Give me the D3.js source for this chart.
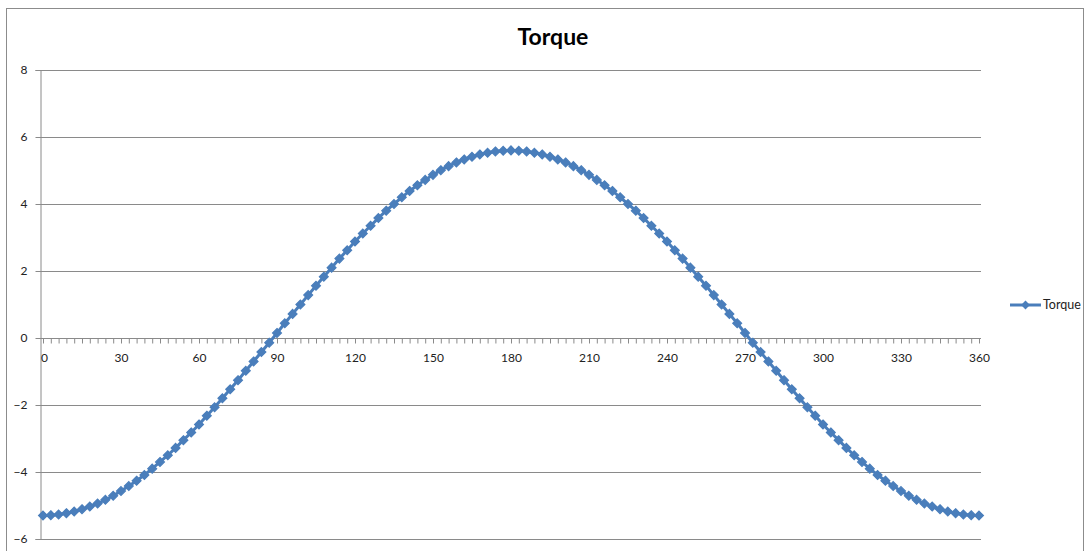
<!DOCTYPE html>
<html lang="en">
<head>
  <meta charset="UTF-8">
  <title>Torque</title>
  <script src="https://d3js.org/d3.v7.min.js"></script>
  <style>
    body { margin: 0; background: #fff; }
    svg { display: block; }
    text { font-family: Lato, "Open Sans", sans-serif; fill: #222; }
    .title { font-size: 23px; font-weight: bold; fill: #000; }
    .tick text { font-size: 12px; }
    .legend text { font-size: 12.5px; }
  </style>
</head>
<body>
  <svg width="1089" height="551"></svg>
  <script>
    // angle in degrees (category axis, every 3 deg)
    const angles = d3.range(0, 361, 3);

    const torque = [
      -5.30, -5.29, -5.27, -5.23, -5.18, -5.11, -5.03, -4.94, -4.83, -4.71,
      -4.57, -4.42, -4.26, -4.09, -3.90, -3.70, -3.50, -3.28, -3.05, -2.82,
      -2.58, -2.32, -2.07, -1.80, -1.53, -1.26, -0.98, -0.70, -0.42, -0.14,
      0.15, 0.44, 0.72, 1.00, 1.28, 1.56, 1.83, 2.10, 2.37, 2.62,
      2.88, 3.12, 3.35, 3.58, 3.80, 4.00, 4.20, 4.39, 4.56, 4.72,
      4.87, 5.01, 5.13, 5.24, 5.33, 5.41, 5.48, 5.53, 5.57, 5.59,
      5.60,
      5.59, 5.57, 5.53, 5.48, 5.41, 5.33, 5.24, 5.13, 5.01, 4.87,
      4.72, 4.56, 4.39, 4.20, 4.00, 3.80, 3.58, 3.35, 3.12, 2.88,
      2.62, 2.37, 2.10, 1.83, 1.56, 1.28, 1.00, 0.72, 0.44, 0.15,
      -0.14, -0.42, -0.70, -0.98, -1.26, -1.53, -1.80, -2.07, -2.32, -2.58,
      -2.82, -3.05, -3.28, -3.50, -3.70, -3.90, -4.09, -4.26, -4.42, -4.57,
      -4.71, -4.83, -4.94, -5.03, -5.11, -5.18, -5.23, -5.27, -5.29, -5.30
    ];

    const xLabels = d3.range(0, 361, 30);
    const yTicks = [-6, -4, -2, 0, 2, 4, 6, 8];

    const seriesName = 'Torque';
    const color = '#4a7ebb';

    const svg = d3.select('svg');
    const plotLeft = 40, plotRight = 981, plotTop = 70, plotBottom = 539;

    // chart border
    svg.append('rect')
      .attr('x', 6.5).attr('y', 8.5)
      .attr('width', 1077).attr('height', 560)
      .attr('fill', 'none')
      .attr('stroke', '#8c8c8c');

    // categories sit slightly inside the plot edges, like Excel
    const x = d3.scaleLinear().domain([0, 360]).range([plotLeft + 3, plotRight - 2]);
    const y = d3.scaleLinear().domain([-6, 8]).range([plotBottom, plotTop]);

    // gridlines
    svg.append('g')
      .selectAll('line')
      .data(yTicks)
      .join('line')
      .attr('x1', plotLeft).attr('x2', plotRight)
      .attr('y1', d => Math.round(y(d)) + 0.5)
      .attr('y2', d => Math.round(y(d)) + 0.5)
      .attr('stroke', '#8a8a8a');

    // y axis
    const yAxis = svg.append('g')
      .attr('transform', `translate(${plotLeft + 0.5},0)`)
      .call(d3.axisLeft(y).tickValues(yTicks).tickSize(5).tickPadding(8)
        .tickFormat(d3.format('d')));
    yAxis.select('.domain').attr('stroke', '#8a8a8a');
    yAxis.selectAll('.tick line').attr('stroke', '#8a8a8a');
    yAxis.selectAll('.tick text').attr('fill', '#222');

    // x axis at y = 0, minor tick every category
    const x0 = Math.round(y(0)) + 0.5;
    const xAxis = svg.append('g')
      .attr('transform', `translate(0,${x0})`)
      .call(d3.axisBottom(x).tickValues(angles).tickSize(5).tickSizeOuter(0)
        .tickFormat(d => xLabels.includes(d) ? d : ''));
    xAxis.select('.domain')
      .attr('d', `M${plotLeft},0H${plotRight}`)
      .attr('stroke', '#8a8a8a');
    xAxis.selectAll('.tick line').attr('stroke', '#8a8a8a');
    xAxis.selectAll('.tick text')
      .attr('fill', '#222')
      .attr('dy', '1.3em')
      .attr('dx', d => d === 0 ? 1 : 0);

    // series line
    const line = d3.line()
      .x((d, i) => x(angles[i]))
      .y(d => y(d));

    svg.append('path')
      .datum(torque)
      .attr('d', line)
      .attr('fill', 'none')
      .attr('stroke', color)
      .attr('stroke-width', 3);

    const diamond = d3.symbol().type(d3.symbolDiamond2).size(50);

    svg.append('g')
      .selectAll('path')
      .data(torque)
      .join('path')
      .attr('transform', (d, i) => `translate(${x(angles[i])},${y(d)})`)
      .attr('d', diamond)
      .attr('fill', color)
      .attr('stroke', color)
      .attr('stroke-width', 1.2);

    // title
    svg.append('text')
      .attr('class', 'title')
      .attr('x', 553)
      .attr('y', 45)
      .attr('text-anchor', 'middle')
      .text('Torque');

    // legend
    const legend = svg.append('g')
      .attr('class', 'legend')
      .attr('transform', 'translate(1010,305)');
    legend.append('line')
      .attr('x1', 0).attr('x2', 31)
      .attr('stroke', color)
      .attr('stroke-width', 3);
    legend.append('path')
      .attr('transform', 'translate(15.5,0)')
      .attr('d', diamond)
      .attr('fill', color);
    legend.append('text')
      .attr('x', 33)
      .attr('y', 4)
      .text(seriesName);
  </script>
</body>
</html>
